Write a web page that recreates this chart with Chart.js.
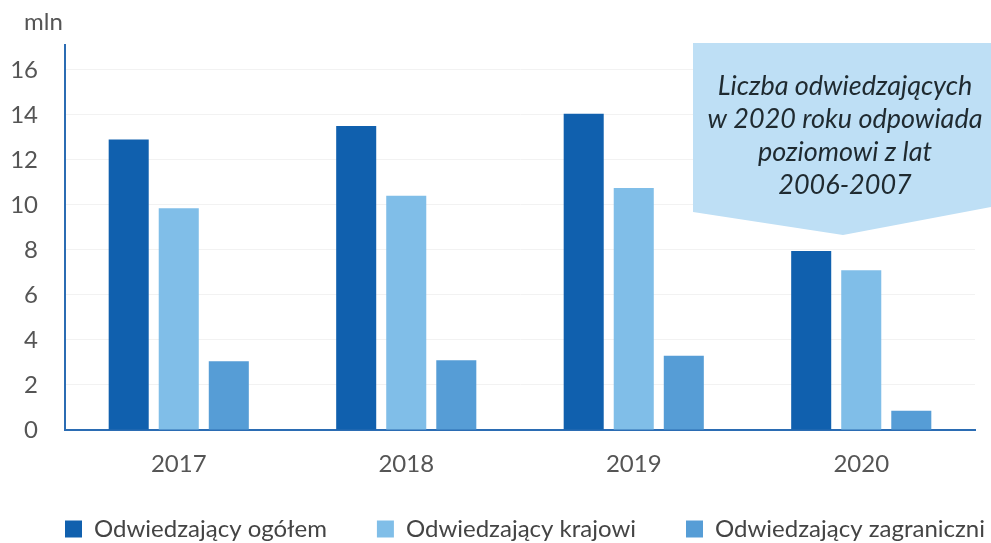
<!DOCTYPE html>
<html>
<head>
<meta charset="utf-8">
<script src="https://cdn.jsdelivr.net/npm/chart.js@4"></script>
<style>
  html, body { margin: 0; padding: 0; background: #fff; }
  #wrap { width: 991px; height: 543px; }
</style>
</head>
<body>
<div id="wrap"><canvas id="chart" width="991" height="543"></canvas></div>
<script>
const years = ['2017', '2018', '2019', '2020'];
const ogolem = [12.9, 13.5, 14.05, 7.95];
const krajowi = [9.85, 10.4, 10.75, 7.1];
const zagraniczni = [3.05, 3.1, 3.3, 0.85];
const yTicks = [0, 2, 4, 6, 8, 10, 12, 14, 16];
const unitLabel = 'mln';
const noteLines = ['Liczba odwiedzających', 'w 2020 roku odpowiada', 'poziomowi z lat', '2006-2007'];

const FONT = 'Lato, "Open Sans", sans-serif';

// callout box + unit label drawn on top of the chart
const extras = {
    id: 'extras',
    afterLayout(chart) {
        // let the year labels overflow below the axis box, and spread the legend out
        chart.scales.x.bottom = chart.height;
        chart.legend.left = 15;
        chart.legend.right = 2000;
    },
    afterDraw(chart) {
        const ctx = chart.ctx;
        ctx.save();
        ctx.fillStyle = '#555';
        ctx.font = '24px ' + FONT;
        ctx.textAlign = 'left';
        ctx.textBaseline = 'middle';
        ctx.fillText(unitLabel, 24, 22);

        // callout shape
        ctx.fillStyle = '#BEDFF5';
        ctx.beginPath();
        ctx.moveTo(693, 43);
        ctx.lineTo(991, 43);
        ctx.lineTo(991, 207);
        ctx.lineTo(843, 235);
        ctx.lineTo(693, 212);
        ctx.closePath();
        ctx.fill();

        ctx.fillStyle = '#1F2A30';
        ctx.font = 'italic 27px ' + FONT;
        ctx.textAlign = 'center';
        noteLines.forEach((line, i) => ctx.fillText(line, 845, 86 + i * 33));
        ctx.restore();
    }
};

const ctx = document.getElementById('chart').getContext('2d');
new Chart(ctx, {
    type: 'bar',
    data: {
        labels: years,
        datasets: [{
            label: 'Odwiedzający ogółem',
            data: ogolem,
            backgroundColor: '#1060AE'
        },
        {
            label: 'Odwiedzający krajowi',
            data: krajowi,
            backgroundColor: '#80BEE8'
        },
        {
            label: 'Odwiedzający zagraniczni',
            data: zagraniczni,
            backgroundColor: '#569DD6'
        }]
    },
    options: {
        responsive: false,
        animation: false,
        categoryPercentage: 0.66,
        barPercentage: 0.8,
        layout: { padding: { top: 45, right: 16, left: 0, bottom: 0 } },
        plugins: {
            tooltip: { enabled: false },
            legend: {
                position: 'bottom',
                align: 'start',
                maxHeight: 76,
                labels: {
                    color: '#444',
                    font: { family: FONT, size: 24 },
                    boxWidth: 17,
                    boxHeight: 17,
                    padding: 50
                }
            }
        },
        scales: {
            x: {
                grid: { display: false, drawTicks: false },
                border: { color: '#2B6CB3', width: 2 },
                ticks: { color: '#555', font: { family: FONT, size: 24 }, padding: 20 },
                afterFit: scale => { scale.height = 37; }
            },
            y: {
                min: 0,
                max: 17.1,
                grid: { color: '#F2F2F2', drawTicks: false },
                border: { color: '#2B6CB3', width: 2 },
                ticks: { color: '#555', font: { family: FONT, size: 24 }, padding: 27 },
                afterBuildTicks: scale => {
                    scale.ticks = yTicks.map(v => ({ value: v }));
                },
                afterFit: scale => { scale.width = 65; }
            }
        }
    },
    plugins: [extras]
});
</script>
</body>
</html>
